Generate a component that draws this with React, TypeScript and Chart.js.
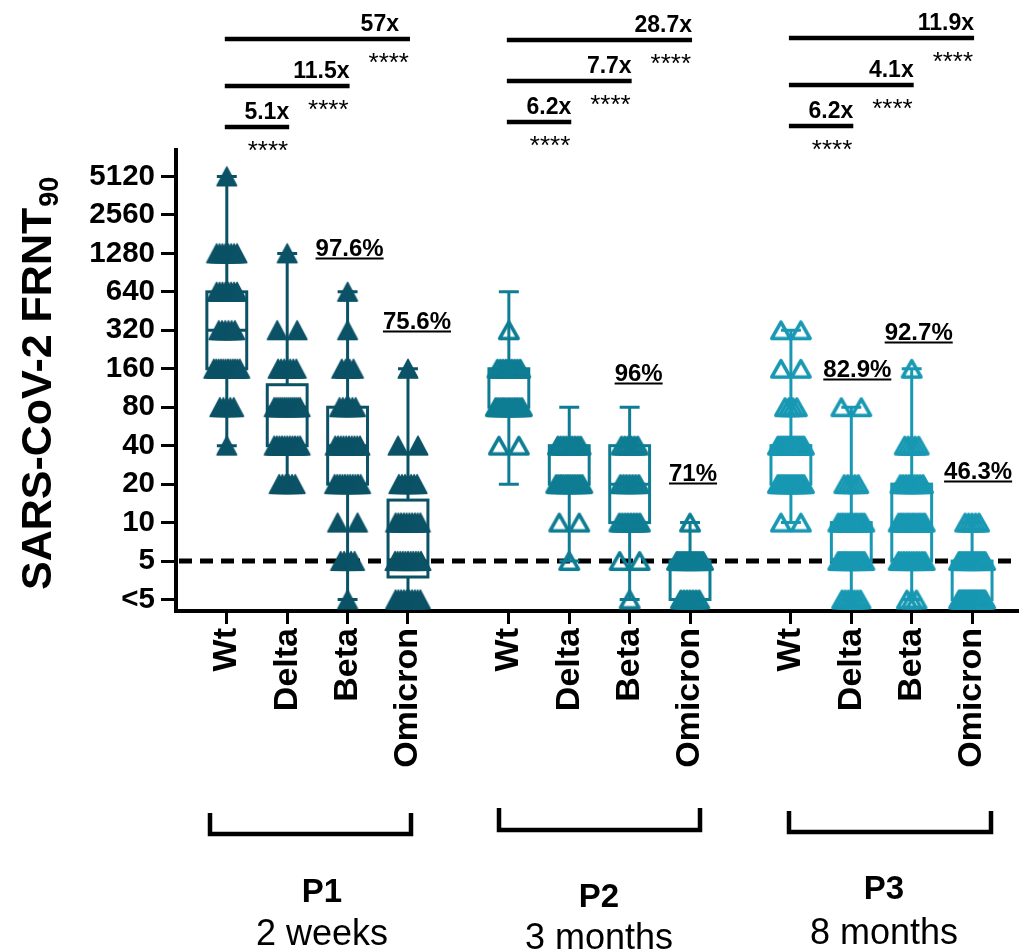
import React, { useEffect, useRef } from 'react';
import { Chart, registerables } from 'chart.js';

Chart.register(...registerables);

// ---------------- data ----------------
const yTickValues = [2.5, 5, 10, 20, 40, 80, 160, 320, 640, 1280, 2560, 5120];
const yTickLabels = ['<5', '5', '10', '20', '40', '80', '160', '320', '640', '1280', '2560', '5120'];
const titerLevels = [2.5, 5, 10, 20, 40, 80, 160, 320, 640, 1280, 2560, 5120];
const detectionLimit = 5;

const variants = ['Wt', 'Delta', 'Beta', 'Omicron'];
const periods = ['P1', 'P2', 'P3'];
const periodTimes = ['2 weeks', '3 months', '8 months'];
const yAxisTitle = 'SARS-CoV-2 FRNT';
const yAxisTitleSub = '90';

// participants per titer level (index matches titerLevels)
const p1WtCounts = [0, 0, 0, 0, 1, 5, 12, 6, 8, 8, 0, 1];
const p1DeltaCounts = [0, 0, 0, 6, 11, 14, 7, 2, 0, 1, 0, 0];
const p1BetaCounts = [1, 5, 2, 11, 10, 6, 4, 1, 1, 0, 0, 0];
const p1OmicronCounts = [10, 11, 10, 7, 2, 0, 1, 0, 0, 0, 0, 0];
const p2WtCounts = [0, 0, 0, 0, 2, 12, 9, 1, 0, 0, 0, 0];
const p2DeltaCounts = [0, 1, 2, 12, 9, 0, 0, 0, 0, 0, 0, 0];
const p2BetaCounts = [1, 2, 8, 7, 6, 0, 0, 0, 0, 0, 0, 0];
const p2OmicronCounts = [7, 16, 1, 0, 0, 0, 0, 0, 0, 0, 0, 0];
const p3WtCounts = [0, 0, 2, 14, 17, 4, 2, 2, 0, 0, 0, 0];
const p3DeltaCounts = [7, 15, 12, 5, 0, 2, 0, 0, 0, 0, 0, 0];
const p3BetaCounts = [3, 11, 12, 9, 5, 0, 1, 0, 0, 0, 0, 0];
const p3OmicronCounts = [22, 14, 5, 0, 0, 0, 0, 0, 0, 0, 0, 0];

const columnCounts = [
  p1WtCounts, p1DeltaCounts, p1BetaCounts, p1OmicronCounts,
  p2WtCounts, p2DeltaCounts, p2BetaCounts, p2OmicronCounts,
  p3WtCounts, p3DeltaCounts, p3BetaCounts, p3OmicronCounts,
];

// box & whisker statistics per column
const whiskerLow = [40, 20, 2.5, 2.5, 20, 5, 2.5, 2.5, 10, 2.5, 2.5, 2.5];
const quartile1 = [160, 40, 20, 3.75, 80, 20, 10, 2.5, 20, 5, 5, 2.5];
const medians = [320, 80, 40, 5, 80, 20, 20, 5, 40, 5, 10, 2.5];
const quartile3 = [640, 120, 80, 15, 160, 40, 40, 5, 40, 10, 20, 5];
const whiskerHigh = [5120, 1280, 640, 160, 640, 80, 80, 10, 320, 80, 160, 10];

// fold reduction vs Wt (Delta, Beta, Omicron) per period
const foldChanges = [
  ['5.1x', '11.5x', '57x'],
  ['6.2x', '7.7x', '28.7x'],
  ['6.2x', '4.1x', '11.9x'],
];
const significance = [
  ['****', '****', '****'],
  ['****', '****', '****'],
  ['****', '****', '****'],
];

const percentLabels = ['97.6%', '75.6%', '96%', '71%', '82.9%', '92.7%', '46.3%'];
const percentColumns = [2, 3, 6, 7, 9, 10, 11];

// ---------------- layout / style ----------------
const FONT = '"Liberation Sans", Arial, Helvetica, sans-serif';
const W = 1029;
const H = 951;
const GROUP_GAP = 4.67;
const colPos = (c: number) => Math.floor(c / 4) * GROUP_GAP + (c % 4);
const columnPositions = columnCounts.map((_, c) => colPos(c));
const X_MIN = -0.841;
const X_MAX = 13.1;
const Y_MIN = 2.032;
const Y_MAX = 8250;
const periodColors = ['#0b5266', '#0e7d93', '#1898b2'];
const BOX_HALF = 0.33;
const CAP_HALF = 0.165;

const compLineY = [
  [127, 86, 39],
  [122, 81, 40],
  [126, 85, 38],
];
const foldLabelDx = [
  [0, 0, -11],
  [0, 0, 0],
  [0, 0, 0],
];
const percentLabelBaseline = [256, 329, 381, 481, 377, 340, 479];
const percentLabelDx = [2, 9, 9, 3, 6, 7, 6];
const bracketBoxes = [
  [210, 411, 813, 834],
  [499, 700, 808, 830],
  [789, 991, 811, 832],
];
const periodLabelX = [322, 599, 884];
const periodLabelBaseline = [902, 907, 899];
const periodTimeBaseline = [945, 949, 944];

function spreadOffset(n: number, i: number) {
  if (n <= 1) return 0;
  const half = n === 2 ? 0.165 : Math.min(0.215, 0.025 + 0.018 * n);
  return -half + (2 * half * i) / (n - 1);
}

function makeTriangle(color: string, filled: boolean): HTMLCanvasElement {
  const c = document.createElement('canvas');
  c.width = 24;
  c.height = 24;
  const g = c.getContext('2d')!;
  g.strokeStyle = color;
  g.fillStyle = color;
  g.lineJoin = 'round';
  g.beginPath();
  if (filled) {
    g.lineWidth = 1.5;
    g.moveTo(12, 2.5);
    g.lineTo(21.8, 21.2);
    g.lineTo(2.2, 21.2);
    g.closePath();
    g.fill();
    g.stroke();
  } else {
    g.lineWidth = 3.6;
    g.moveTo(12, 3.8);
    g.lineTo(21.2, 20.2);
    g.lineTo(2.8, 20.2);
    g.closePath();
    g.stroke();
  }
  return c;
}

const decorPlugin = {
  id: 'decor',
  beforeDatasetsDraw(chart: any) {
    const { ctx, chartArea, scales } = chart;
    const x = scales.x;
    const y = scales.y;
    ctx.save();
    // detection limit dashed line
    const yl = y.getPixelForValue(detectionLimit);
    ctx.strokeStyle = '#000';
    ctx.lineWidth = 5;
    ctx.setLineDash([13, 8]);
    ctx.beginPath();
    ctx.moveTo(chartArea.left + 3, yl);
    ctx.lineTo(chartArea.right, yl);
    ctx.stroke();
    ctx.setLineDash([]);
    // boxes and whiskers
    ctx.lineWidth = 3;
    for (let c = 0; c < columnPositions.length; c++) {
      const col = periodColors[Math.floor(c / 4)];
      ctx.strokeStyle = col;
      const cx = x.getPixelForValue(columnPositions[c]);
      const bl = x.getPixelForValue(columnPositions[c] - BOX_HALF);
      const br = x.getPixelForValue(columnPositions[c] + BOX_HALF);
      const cl = x.getPixelForValue(columnPositions[c] - CAP_HALF);
      const cr = x.getPixelForValue(columnPositions[c] + CAP_HALF);
      const yLo = y.getPixelForValue(whiskerLow[c]);
      const yHi = y.getPixelForValue(whiskerHigh[c]);
      const yQ1 = y.getPixelForValue(quartile1[c]);
      const yQ3 = y.getPixelForValue(quartile3[c]);
      const yMed = y.getPixelForValue(medians[c]);
      ctx.beginPath();
      ctx.moveTo(cx, yHi);
      ctx.lineTo(cx, yQ3);
      ctx.moveTo(cx, yQ1);
      ctx.lineTo(cx, yLo);
      ctx.moveTo(cl, yHi);
      ctx.lineTo(cr, yHi);
      ctx.moveTo(cl, yLo);
      ctx.lineTo(cr, yLo);
      ctx.stroke();
      ctx.strokeRect(bl, yQ3, br - bl, yQ1 - yQ3);
      ctx.beginPath();
      ctx.moveTo(bl, yMed);
      ctx.lineTo(br, yMed);
      ctx.stroke();
    }
    ctx.restore();
  },
  afterDraw(chart: any) {
    const { ctx, scales } = chart;
    const x = scales.x;
    ctx.save();
    ctx.fillStyle = '#000';
    ctx.strokeStyle = '#000';

    // comparison bars on top
    for (let p = 0; p < 3; p++) {
      const wtX = x.getPixelForValue(columnPositions[p * 4]);
      for (let k = 0; k < 3; k++) {
        const endX = x.getPixelForValue(columnPositions[p * 4 + k + 1]) + 2;
        const ly = compLineY[p][k];
        ctx.lineWidth = 4.5;
        ctx.beginPath();
        ctx.moveTo(wtX - 2, ly);
        ctx.lineTo(endX, ly);
        ctx.stroke();
        ctx.textAlign = 'right';
        ctx.textBaseline = 'alphabetic';
        ctx.font = `bold 23px ${FONT}`;
        ctx.fillText(foldChanges[p][k], endX + foldLabelDx[p][k], ly - 8);
        ctx.font = `26px ${FONT}`;
        ctx.fillText(significance[p][k], endX - 1, ly + 32);
      }
    }

    // percent labels (underlined)
    ctx.font = `bold 24px ${FONT}`;
    ctx.textAlign = 'center';
    ctx.textBaseline = 'alphabetic';
    percentLabels.forEach((t, i) => {
      const cx = x.getPixelForValue(columnPositions[percentColumns[i]]) + percentLabelDx[i];
      const by = percentLabelBaseline[i];
      ctx.fillText(t, cx, by);
      const w = ctx.measureText(t).width;
      ctx.fillRect(cx - w / 2, by + 1.5, w, 2);
    });

    // brackets and period labels
    ctx.lineWidth = 4.5;
    ctx.lineJoin = 'miter';
    bracketBoxes.forEach(([l, r, t, b], p) => {
      ctx.beginPath();
      ctx.moveTo(l, t);
      ctx.lineTo(l, b);
      ctx.lineTo(r, b);
      ctx.lineTo(r, t);
      ctx.stroke();
      ctx.textAlign = 'center';
      ctx.font = `bold 33px ${FONT}`;
      ctx.fillText(periods[p], periodLabelX[p], periodLabelBaseline[p]);
      ctx.font = `36px ${FONT}`;
      ctx.fillText(periodTimes[p], periodLabelX[p], periodTimeBaseline[p]);
    });

    // y axis title with subscript
    ctx.translate(51, 590);
    ctx.rotate(-Math.PI / 2);
    ctx.textAlign = 'left';
    ctx.font = `bold 43px ${FONT}`;
    ctx.fillText(yAxisTitle, 0, 0);
    const tw = ctx.measureText(yAxisTitle).width;
    ctx.font = `bold 27px ${FONT}`;
    ctx.fillText(yAxisTitleSub, tw + 1, 7);
    ctx.restore();
  },
};

export default function App() {
  const ref = useRef<HTMLCanvasElement>(null);
  useEffect(() => {
    const canvas = ref.current;
    if (!canvas) return;
    const markers = periodColors.map((col, p) => makeTriangle(col, p === 0));
    const datasets = columnCounts.map((counts, c) => {
      const pts: { x: number; y: number }[] = [];
      counts.forEach((n, li) => {
        for (let i = 0; i < n; i++) {
          pts.push({ x: columnPositions[c] + spreadOffset(n, i), y: titerLevels[li] });
        }
      });
      const p = Math.floor(c / 4);
      return {
        label: `${periods[p]} ${variants[c % 4]}`,
        data: pts,
        pointStyle: markers[p],
        pointRadius: 10,
        pointHoverRadius: 10,
        backgroundColor: periodColors[p],
        borderColor: periodColors[p],
        showLine: false,
        clip: false as any,
      };
    });
    const chart = new Chart(canvas, {
      type: 'scatter',
      data: { datasets },
      options: {
        responsive: false,
        animation: false,
        events: [],
        layout: { padding: { top: 150, right: 6, bottom: 140, left: 0 } },
        plugins: {
          legend: { display: false },
          tooltip: { enabled: false },
          title: { display: false },
        },
        scales: {
          x: {
            type: 'linear',
            min: X_MIN,
            max: X_MAX,
            bounds: 'data',
            afterFit: (s: any) => {
              s.height = 200;
              s.paddingLeft = 0;
              s.paddingRight = 0;
            },
            afterBuildTicks: (s: any) => {
              s.ticks = columnPositions.map((v) => ({ value: v }));
            },
            ticks: {
              autoSkip: false,
              minRotation: 90,
              maxRotation: 90,
              padding: 4,
              color: '#000',
              font: { family: FONT, size: 34, weight: 'bold' },
              callback: (_v: any, i: number) => variants[i % 4],
            },
            grid: {
              display: true,
              drawOnChartArea: false,
              drawTicks: true,
              tickLength: 13,
              tickWidth: 3,
              tickColor: '#000',
            },
            border: { display: true, color: '#000', width: 4 },
          },
          y: {
            type: 'logarithmic',
            min: Y_MIN,
            max: Y_MAX,
            bounds: 'data',
            afterFit: (s: any) => {
              s.width = 176;
              s.paddingTop = 0;
              s.paddingBottom = 0;
            },
            afterBuildTicks: (s: any) => {
              s.ticks = yTickValues.map((v) => ({ value: v }));
            },
            ticks: {
              autoSkip: false,
              padding: 6,
              color: '#000',
              font: { family: FONT, size: 29.5, weight: 'bold' },
              callback: (v: any) => {
                const idx = yTickValues.findIndex((t) => Math.abs(t - Number(v)) < 1e-6);
                return idx >= 0 ? yTickLabels[idx] : '';
              },
            },
            grid: {
              display: true,
              drawOnChartArea: false,
              drawTicks: true,
              tickLength: 15,
              tickWidth: 3,
              tickColor: '#000',
            },
            border: { display: true, color: '#000', width: 4 },
          },
        },
      } as any,
      plugins: [decorPlugin],
    });
    return () => chart.destroy();
  }, []);
  return (
    <div style={{ position: 'absolute', left: 0, top: 0, width: W, height: H, background: '#fff' }}>
      <canvas ref={ref} width={W} height={H} style={{ display: 'block', width: W, height: H }} />
    </div>
  );
}
